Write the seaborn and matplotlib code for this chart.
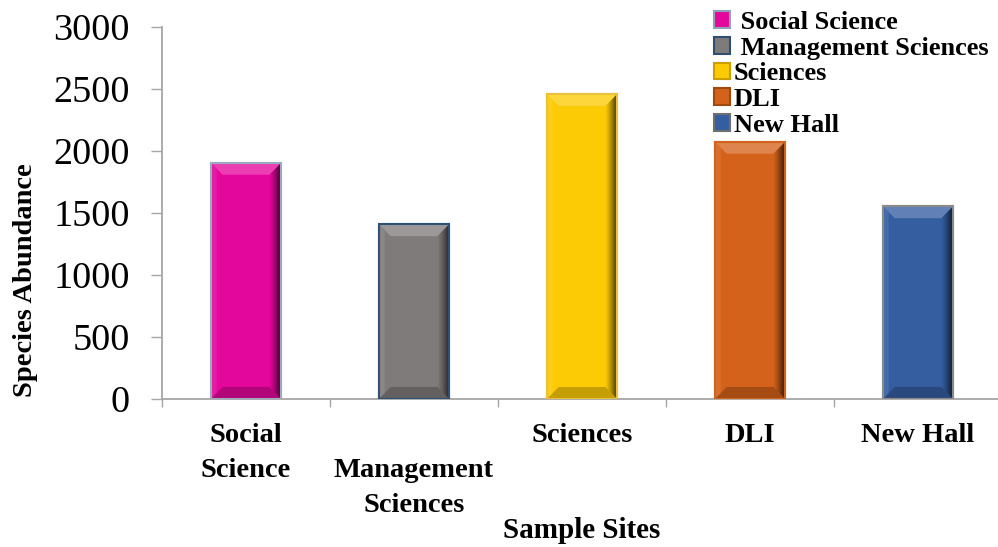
import numpy as np
import pandas as pd
import matplotlib
matplotlib.use("Agg")
import matplotlib.pyplot as plt
from matplotlib.patches import Polygon, Patch
from matplotlib.colors import to_rgb
import seaborn as sns

# Species abundance per sampling site
sites = ["Social Science", "Management Sciences", "Sciences", "DLI", "New Hall"]
abundance = [1905, 1410, 2460, 2075, 1555]
tick_labels = ["Social\nScience", "\nManagement\nSciences", "Sciences", "DLI", "New Hall"]
legend_labels = [" Social Science", " Management Sciences", "Sciences", "DLI", "New Hall"]
y_ticks = [0, 500, 1000, 1500, 2000, 2500, 3000]

face_colors = ["#E4079C", "#7F7B7A", "#FDCB05", "#D4621B", "#355EA1"]
edge_colors = ["#9AAABF", "#2E5275", "#E8C23A", "#D0641F", "#8A8A8A"]
axis_grey = "#A6A6A6"

sns.set_theme(style="white")
plt.rcParams["font.family"] = ["Liberation Serif", "DejaVu Serif"]
plt.rcParams["text.color"] = "black"
plt.rcParams["axes.labelcolor"] = "black"
plt.rcParams["xtick.labelcolor"] = "black"
plt.rcParams["ytick.labelcolor"] = "black"

fig = plt.figure(figsize=(9.98, 5.47), dpi=100)
ax = fig.add_axes([0.1623, 0.2706, 0.8417, 0.680])

df = pd.DataFrame({"site": sites, "abundance": abundance})
sns.barplot(data=df, x="site", y="abundance", hue="site", hue_order=sites,
            order=sites, palette=dict(zip(sites, face_colors)), saturation=1,
            width=0.42, legend=False, ax=ax)

ax.set_xlim(-0.5, 4.5)
ax.set_ylim(0, 3000)

for side in ("top", "right"):
    ax.spines[side].set_visible(False)
for side in ("left", "bottom"):
    ax.spines[side].set_color(axis_grey)
    ax.spines[side].set_linewidth(1.3)

ax.set_yticks(y_ticks)
ax.set_yticklabels([str(t) for t in y_ticks])
ax.tick_params(axis="y", direction="out", length=8, width=1, color=axis_grey,
               labelsize=27.5, pad=15, left=True, labelcolor="black")

ax.set_xticks(range(len(sites)))
ax.set_xticklabels(tick_labels, fontweight="bold", fontsize=20.5, linespacing=1.55)
ax.tick_params(axis="x", which="major", length=0, pad=17, bottom=True, labelcolor="black")
ax.set_xticks(np.arange(-0.5, len(sites), 1.0), minor=True)
ax.tick_params(axis="x", which="minor", direction="out", length=6, width=1,
               color=axis_grey, bottom=True)

ax.set_ylabel("Species Abundance", fontsize=20.5, fontweight="bold", color="black")
ax.yaxis.set_label_coords(-0.148, 0.32)
ax.set_xlabel("Sample Sites", fontsize=21, fontweight="bold", color="black")
ax.xaxis.set_label_coords(0.5, -0.318)


def mix(color, other, t):
    c = np.array(to_rgb(color))
    o = np.array(to_rgb(other))
    return tuple(c * (1 - t) + o * t)


# Bevelled look for each bar: light top facet, dark bottom facet,
# a shaded right edge and a faint highlight on the left edge.
bbox = ax.get_window_extent()
px_per_x = bbox.width / (ax.get_xlim()[1] - ax.get_xlim()[0])
px_per_y = bbox.height / (ax.get_ylim()[1] - ax.get_ylim()[0])
bev_px = 12
bx = bev_px / px_per_x
by = bev_px / px_per_y

bars = sorted(ax.patches, key=lambda p: p.get_x())
for bar, fc, ec in zip(bars, face_colors, edge_colors):
    x0, y0 = bar.get_x(), bar.get_y()
    x1, y1 = x0 + bar.get_width(), y0 + bar.get_height()
    bar.set_edgecolor(ec)
    bar.set_linewidth(1.5)
    bar.set_zorder(2)

    top = Polygon([(x0, y1), (x1, y1), (x1 - bx, y1 - by), (x0 + bx, y1 - by)],
                  closed=True, facecolor=mix(fc, "white", 0.22), edgecolor="none", zorder=3)
    bottom = Polygon([(x0, y0), (x1, y0), (x1 - bx, y0 + by), (x0 + bx, y0 + by)],
                     closed=True, facecolor=mix(fc, "black", 0.22), edgecolor="none", zorder=3)
    left = Polygon([(x0, y0), (x0, y1), (x0 + bx * 0.5, y1 - by * 0.5), (x0 + bx * 0.5, y0 + by * 0.5)],
                   closed=True, facecolor=mix(fc, "white", 0.08), edgecolor="none", zorder=3)
    right_path = Polygon([(x1, y0), (x1, y1), (x1 - bx, y1 - by), (x1 - bx, y0 + by)],
                         closed=True, facecolor="none", edgecolor="none", zorder=3)
    for poly in (top, bottom, left, right_path):
        ax.add_patch(poly)

    ramp = np.zeros((1, 64, 4))
    ramp[..., :3] = np.array(mix(fc, "black", 0.85))
    ramp[0, :, 3] = np.linspace(0.0, 0.9, 64) ** 1.3
    im = ax.imshow(ramp, extent=[x1 - bx, x1, y0, y1], aspect="auto",
                   interpolation="bilinear", zorder=4)
    im.set_clip_path(right_path)

    outline = Polygon([(x0, y0), (x1, y0), (x1, y1), (x0, y1)], closed=True,
                      facecolor="none", edgecolor=ec, linewidth=1.5, zorder=5)
    ax.add_patch(outline)

ax.set_xlim(-0.5, 4.5)
ax.set_ylim(0, 3000)

handles = [Patch(facecolor=fc, edgecolor=ec, linewidth=1.5)
           for fc, ec in zip(face_colors, ["#8EA1B8", "#2E4F70", "#C9A000", "#A04A12", "#6F6F6F"])]
fig.legend(handles, legend_labels, loc="upper left",
           bbox_to_anchor=(714 / 998, 1 - 11 / 547), frameon=False,
           prop={"weight": "bold", "size": 19}, handlelength=0.6, handleheight=0.6,
           handletextpad=0.15, labelspacing=0.10, borderpad=0, borderaxespad=0,
           labelcolor="black")

fig.savefig("out.png", dpi=100)
